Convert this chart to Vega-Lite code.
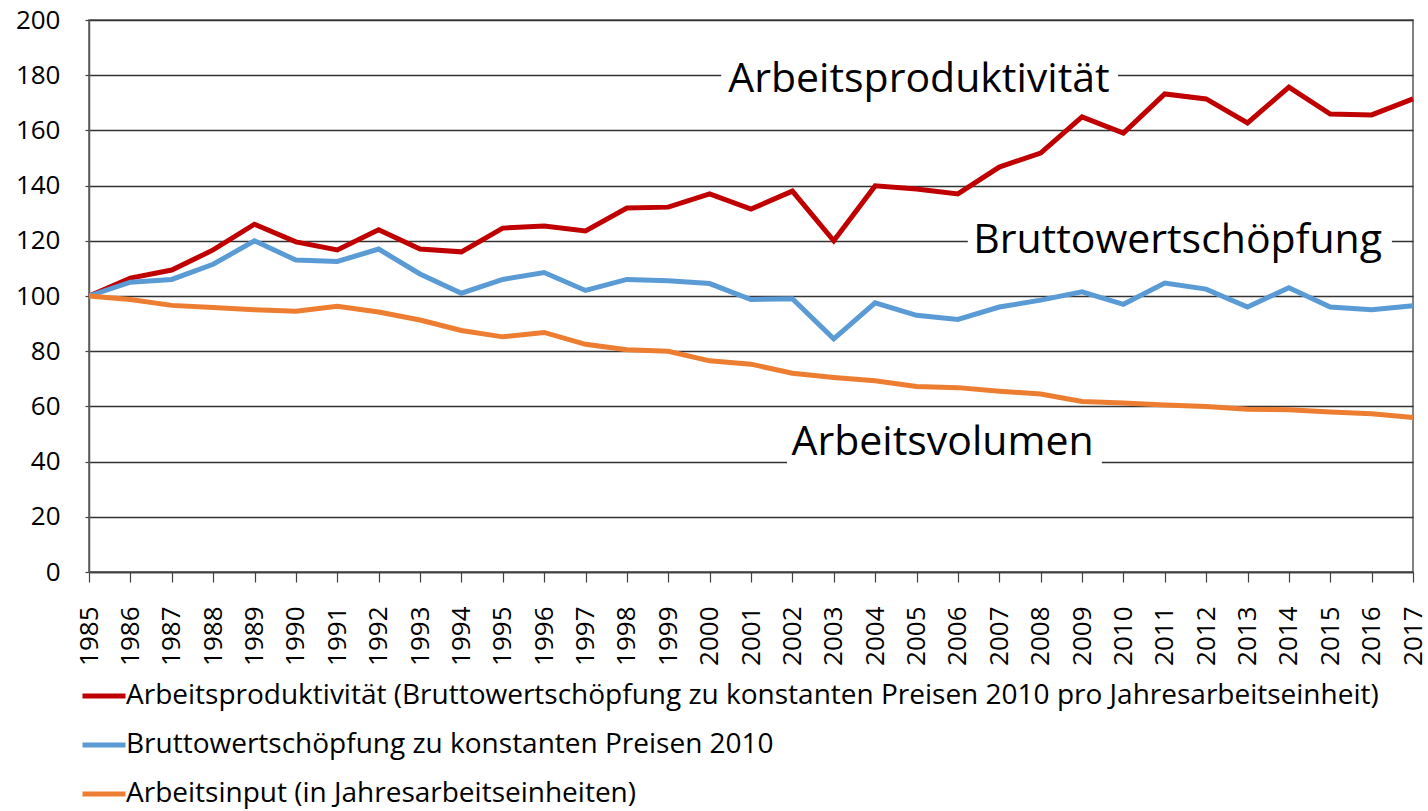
{
  "$schema": "https://vega.github.io/schema/vega-lite/v6.json",
  "width": 1324,
  "height": 552,
  "autosize": {"type": "none"},
  "padding": {"left": 89, "top": 20, "right": 15, "bottom": 239},
  "background": "white",
  "config": {
    "view": {"stroke": "#595959", "strokeWidth": 1.5},
    "font": "Open Sans",
    "axis": {"labelFont": "Open Sans", "labelFontSize": 26, "labelColor": "#000000", "domainColor": "#595959", "domainWidth": 1.5, "tickColor": "#404040", "tickWidth": 1.2, "gridColor": "#333333", "gridWidth": 1.4}
  },
  "datasets": {
    "series": [
      {"year": 1985, "series": "Arbeitsproduktivität (Bruttowertschöpfung zu konstanten Preisen 2010 pro Jahresarbeitseinheit)", "value": 100},
      {"year": 1986, "series": "Arbeitsproduktivität (Bruttowertschöpfung zu konstanten Preisen 2010 pro Jahresarbeitseinheit)", "value": 106.5},
      {"year": 1987, "series": "Arbeitsproduktivität (Bruttowertschöpfung zu konstanten Preisen 2010 pro Jahresarbeitseinheit)", "value": 109.4},
      {"year": 1988, "series": "Arbeitsproduktivität (Bruttowertschöpfung zu konstanten Preisen 2010 pro Jahresarbeitseinheit)", "value": 116.7},
      {"year": 1989, "series": "Arbeitsproduktivität (Bruttowertschöpfung zu konstanten Preisen 2010 pro Jahresarbeitseinheit)", "value": 126},
      {"year": 1990, "series": "Arbeitsproduktivität (Bruttowertschöpfung zu konstanten Preisen 2010 pro Jahresarbeitseinheit)", "value": 119.6},
      {"year": 1991, "series": "Arbeitsproduktivität (Bruttowertschöpfung zu konstanten Preisen 2010 pro Jahresarbeitseinheit)", "value": 116.7},
      {"year": 1992, "series": "Arbeitsproduktivität (Bruttowertschöpfung zu konstanten Preisen 2010 pro Jahresarbeitseinheit)", "value": 124},
      {"year": 1993, "series": "Arbeitsproduktivität (Bruttowertschöpfung zu konstanten Preisen 2010 pro Jahresarbeitseinheit)", "value": 117},
      {"year": 1994, "series": "Arbeitsproduktivität (Bruttowertschöpfung zu konstanten Preisen 2010 pro Jahresarbeitseinheit)", "value": 116},
      {"year": 1995, "series": "Arbeitsproduktivität (Bruttowertschöpfung zu konstanten Preisen 2010 pro Jahresarbeitseinheit)", "value": 124.6},
      {"year": 1996, "series": "Arbeitsproduktivität (Bruttowertschöpfung zu konstanten Preisen 2010 pro Jahresarbeitseinheit)", "value": 125.4},
      {"year": 1997, "series": "Arbeitsproduktivität (Bruttowertschöpfung zu konstanten Preisen 2010 pro Jahresarbeitseinheit)", "value": 123.6},
      {"year": 1998, "series": "Arbeitsproduktivität (Bruttowertschöpfung zu konstanten Preisen 2010 pro Jahresarbeitseinheit)", "value": 131.9},
      {"year": 1999, "series": "Arbeitsproduktivität (Bruttowertschöpfung zu konstanten Preisen 2010 pro Jahresarbeitseinheit)", "value": 132.2},
      {"year": 2000, "series": "Arbeitsproduktivität (Bruttowertschöpfung zu konstanten Preisen 2010 pro Jahresarbeitseinheit)", "value": 137},
      {"year": 2001, "series": "Arbeitsproduktivität (Bruttowertschöpfung zu konstanten Preisen 2010 pro Jahresarbeitseinheit)", "value": 131.5},
      {"year": 2002, "series": "Arbeitsproduktivität (Bruttowertschöpfung zu konstanten Preisen 2010 pro Jahresarbeitseinheit)", "value": 138},
      {"year": 2003, "series": "Arbeitsproduktivität (Bruttowertschöpfung zu konstanten Preisen 2010 pro Jahresarbeitseinheit)", "value": 120},
      {"year": 2004, "series": "Arbeitsproduktivität (Bruttowertschöpfung zu konstanten Preisen 2010 pro Jahresarbeitseinheit)", "value": 139.9},
      {"year": 2005, "series": "Arbeitsproduktivität (Bruttowertschöpfung zu konstanten Preisen 2010 pro Jahresarbeitseinheit)", "value": 138.8},
      {"year": 2006, "series": "Arbeitsproduktivität (Bruttowertschöpfung zu konstanten Preisen 2010 pro Jahresarbeitseinheit)", "value": 137},
      {"year": 2007, "series": "Arbeitsproduktivität (Bruttowertschöpfung zu konstanten Preisen 2010 pro Jahresarbeitseinheit)", "value": 146.7},
      {"year": 2008, "series": "Arbeitsproduktivität (Bruttowertschöpfung zu konstanten Preisen 2010 pro Jahresarbeitseinheit)", "value": 151.8},
      {"year": 2009, "series": "Arbeitsproduktivität (Bruttowertschöpfung zu konstanten Preisen 2010 pro Jahresarbeitseinheit)", "value": 164.9},
      {"year": 2010, "series": "Arbeitsproduktivität (Bruttowertschöpfung zu konstanten Preisen 2010 pro Jahresarbeitseinheit)", "value": 159},
      {"year": 2011, "series": "Arbeitsproduktivität (Bruttowertschöpfung zu konstanten Preisen 2010 pro Jahresarbeitseinheit)", "value": 173.2},
      {"year": 2012, "series": "Arbeitsproduktivität (Bruttowertschöpfung zu konstanten Preisen 2010 pro Jahresarbeitseinheit)", "value": 171.4},
      {"year": 2013, "series": "Arbeitsproduktivität (Bruttowertschöpfung zu konstanten Preisen 2010 pro Jahresarbeitseinheit)", "value": 162.7},
      {"year": 2014, "series": "Arbeitsproduktivität (Bruttowertschöpfung zu konstanten Preisen 2010 pro Jahresarbeitseinheit)", "value": 175.7},
      {"year": 2015, "series": "Arbeitsproduktivität (Bruttowertschöpfung zu konstanten Preisen 2010 pro Jahresarbeitseinheit)", "value": 165.9},
      {"year": 2016, "series": "Arbeitsproduktivität (Bruttowertschöpfung zu konstanten Preisen 2010 pro Jahresarbeitseinheit)", "value": 165.6},
      {"year": 2017, "series": "Arbeitsproduktivität (Bruttowertschöpfung zu konstanten Preisen 2010 pro Jahresarbeitseinheit)", "value": 171.4},
      {"year": 1985, "series": "Bruttowertschöpfung zu konstanten Preisen 2010", "value": 100},
      {"year": 1986, "series": "Bruttowertschöpfung zu konstanten Preisen 2010", "value": 105},
      {"year": 1987, "series": "Bruttowertschöpfung zu konstanten Preisen 2010", "value": 106},
      {"year": 1988, "series": "Bruttowertschöpfung zu konstanten Preisen 2010", "value": 111.5},
      {"year": 1989, "series": "Bruttowertschöpfung zu konstanten Preisen 2010", "value": 120},
      {"year": 1990, "series": "Bruttowertschöpfung zu konstanten Preisen 2010", "value": 113},
      {"year": 1991, "series": "Bruttowertschöpfung zu konstanten Preisen 2010", "value": 112.5},
      {"year": 1992, "series": "Bruttowertschöpfung zu konstanten Preisen 2010", "value": 117},
      {"year": 1993, "series": "Bruttowertschöpfung zu konstanten Preisen 2010", "value": 108},
      {"year": 1994, "series": "Bruttowertschöpfung zu konstanten Preisen 2010", "value": 101},
      {"year": 1995, "series": "Bruttowertschöpfung zu konstanten Preisen 2010", "value": 106},
      {"year": 1996, "series": "Bruttowertschöpfung zu konstanten Preisen 2010", "value": 108.5},
      {"year": 1997, "series": "Bruttowertschöpfung zu konstanten Preisen 2010", "value": 102},
      {"year": 1998, "series": "Bruttowertschöpfung zu konstanten Preisen 2010", "value": 106},
      {"year": 1999, "series": "Bruttowertschöpfung zu konstanten Preisen 2010", "value": 105.5},
      {"year": 2000, "series": "Bruttowertschöpfung zu konstanten Preisen 2010", "value": 104.5},
      {"year": 2001, "series": "Bruttowertschöpfung zu konstanten Preisen 2010", "value": 98.7},
      {"year": 2002, "series": "Bruttowertschöpfung zu konstanten Preisen 2010", "value": 99},
      {"year": 2003, "series": "Bruttowertschöpfung zu konstanten Preisen 2010", "value": 84.5},
      {"year": 2004, "series": "Bruttowertschöpfung zu konstanten Preisen 2010", "value": 97.5},
      {"year": 2005, "series": "Bruttowertschöpfung zu konstanten Preisen 2010", "value": 93},
      {"year": 2006, "series": "Bruttowertschöpfung zu konstanten Preisen 2010", "value": 91.5},
      {"year": 2007, "series": "Bruttowertschöpfung zu konstanten Preisen 2010", "value": 96},
      {"year": 2008, "series": "Bruttowertschöpfung zu konstanten Preisen 2010", "value": 98.5},
      {"year": 2009, "series": "Bruttowertschöpfung zu konstanten Preisen 2010", "value": 101.5},
      {"year": 2010, "series": "Bruttowertschöpfung zu konstanten Preisen 2010", "value": 97},
      {"year": 2011, "series": "Bruttowertschöpfung zu konstanten Preisen 2010", "value": 104.7},
      {"year": 2012, "series": "Bruttowertschöpfung zu konstanten Preisen 2010", "value": 102.5},
      {"year": 2013, "series": "Bruttowertschöpfung zu konstanten Preisen 2010", "value": 96},
      {"year": 2014, "series": "Bruttowertschöpfung zu konstanten Preisen 2010", "value": 103},
      {"year": 2015, "series": "Bruttowertschöpfung zu konstanten Preisen 2010", "value": 96},
      {"year": 2016, "series": "Bruttowertschöpfung zu konstanten Preisen 2010", "value": 95},
      {"year": 2017, "series": "Bruttowertschöpfung zu konstanten Preisen 2010", "value": 96.5},
      {"year": 1985, "series": "Arbeitsinput (in Jahresarbeitseinheiten)", "value": 100},
      {"year": 1986, "series": "Arbeitsinput (in Jahresarbeitseinheiten)", "value": 98.7},
      {"year": 1987, "series": "Arbeitsinput (in Jahresarbeitseinheiten)", "value": 96.6},
      {"year": 1988, "series": "Arbeitsinput (in Jahresarbeitseinheiten)", "value": 95.8},
      {"year": 1989, "series": "Arbeitsinput (in Jahresarbeitseinheiten)", "value": 95},
      {"year": 1990, "series": "Arbeitsinput (in Jahresarbeitseinheiten)", "value": 94.5},
      {"year": 1991, "series": "Arbeitsinput (in Jahresarbeitseinheiten)", "value": 96.3},
      {"year": 1992, "series": "Arbeitsinput (in Jahresarbeitseinheiten)", "value": 94.2},
      {"year": 1993, "series": "Arbeitsinput (in Jahresarbeitseinheiten)", "value": 91.3},
      {"year": 1994, "series": "Arbeitsinput (in Jahresarbeitseinheiten)", "value": 87.5},
      {"year": 1995, "series": "Arbeitsinput (in Jahresarbeitseinheiten)", "value": 85.2},
      {"year": 1996, "series": "Arbeitsinput (in Jahresarbeitseinheiten)", "value": 86.8},
      {"year": 1997, "series": "Arbeitsinput (in Jahresarbeitseinheiten)", "value": 82.5},
      {"year": 1998, "series": "Arbeitsinput (in Jahresarbeitseinheiten)", "value": 80.5},
      {"year": 1999, "series": "Arbeitsinput (in Jahresarbeitseinheiten)", "value": 80},
      {"year": 2000, "series": "Arbeitsinput (in Jahresarbeitseinheiten)", "value": 76.5},
      {"year": 2001, "series": "Arbeitsinput (in Jahresarbeitseinheiten)", "value": 75.3},
      {"year": 2002, "series": "Arbeitsinput (in Jahresarbeitseinheiten)", "value": 72},
      {"year": 2003, "series": "Arbeitsinput (in Jahresarbeitseinheiten)", "value": 70.5},
      {"year": 2004, "series": "Arbeitsinput (in Jahresarbeitseinheiten)", "value": 69.3},
      {"year": 2005, "series": "Arbeitsinput (in Jahresarbeitseinheiten)", "value": 67.2},
      {"year": 2006, "series": "Arbeitsinput (in Jahresarbeitseinheiten)", "value": 66.8},
      {"year": 2007, "series": "Arbeitsinput (in Jahresarbeitseinheiten)", "value": 65.5},
      {"year": 2008, "series": "Arbeitsinput (in Jahresarbeitseinheiten)", "value": 64.5},
      {"year": 2009, "series": "Arbeitsinput (in Jahresarbeitseinheiten)", "value": 61.8},
      {"year": 2010, "series": "Arbeitsinput (in Jahresarbeitseinheiten)", "value": 61.2},
      {"year": 2011, "series": "Arbeitsinput (in Jahresarbeitseinheiten)", "value": 60.5},
      {"year": 2012, "series": "Arbeitsinput (in Jahresarbeitseinheiten)", "value": 60},
      {"year": 2013, "series": "Arbeitsinput (in Jahresarbeitseinheiten)", "value": 59},
      {"year": 2014, "series": "Arbeitsinput (in Jahresarbeitseinheiten)", "value": 58.8},
      {"year": 2015, "series": "Arbeitsinput (in Jahresarbeitseinheiten)", "value": 58},
      {"year": 2016, "series": "Arbeitsinput (in Jahresarbeitseinheiten)", "value": 57.3},
      {"year": 2017, "series": "Arbeitsinput (in Jahresarbeitseinheiten)", "value": 56}
    ],
    "labels": [
      {"label": "Arbeitsproduktivität", "year": 2005.06, "value": 174, "x1": 2000.28, "x2": 2009.87, "y1": 172, "y2": 188},
      {"label": "Bruttowertschöpfung", "year": 2011.31, "value": 115.7, "x1": 2006.24, "x2": 2016.49, "y1": 115, "y2": 125},
      {"label": "Arbeitsvolumen", "year": 2005.63, "value": 42.4, "x1": 2001.87, "x2": 2009.48, "y1": 36, "y2": 44}
    ]
  },
  "layer": [
    {
      "data": {"name": "series"},
      "mark": {"type": "line", "strokeWidth": 5, "strokeJoin": "miter", "strokeCap": "butt"},
      "encoding": {
        "x": {
          "field": "year", "type": "quantitative",
          "scale": {"domain": [1985, 2017], "nice": false, "zero": false},
          "axis": {
            "title": null,
            "values": [1985,1986,1987,1988,1989,1990,1991,1992,1993,1994,1995,1996,1997,1998,1999,2000,2001,2002,2003,2004,2005,2006,2007,2008,2009,2010,2011,2012,2013,2014,2015,2016,2017],
            "format": "d", "labelAngle": -90, "labelAlign": "right", "labelBaseline": "middle",
            "grid": false, "tickSize": 10, "labelPadding": 24, "labelOverlap": false, "labelFlush": false,
            "domainColor": "#404040"
          }
        },
        "y": {
          "field": "value", "type": "quantitative",
          "scale": {"domain": [0, 200], "nice": false},
          "axis": {
            "title": null, "values": [0,20,40,60,80,100,120,140,160,180,200],
            "grid": true, "tickSize": 4, "labelPadding": 25, "labelFlush": false
          }
        },
        "color": {
          "field": "series", "type": "nominal",
          "scale": {
            "domain": ["Arbeitsproduktivität (Bruttowertschöpfung zu konstanten Preisen 2010 pro Jahresarbeitseinheit)", "Bruttowertschöpfung zu konstanten Preisen 2010", "Arbeitsinput (in Jahresarbeitseinheiten)"],
            "range": ["#C00000", "#5B9BD5", "#ED7D31"]
          },
          "legend": {
            "title": null, "orient": "none", "legendX": -9, "legendY": 652, "direction": "vertical",
            "symbolType": "stroke", "symbolSize": 1849, "symbolStrokeWidth": 5,
            "labelFontSize": 28, "labelFont": "Open Sans", "labelColor": "#000000", "labelLimit": 2000,
            "labelOffset": -2, "rowPadding": 11, "padding": 0
          }
        },
        "order": {"field": "year", "type": "quantitative"}
      }
    },
    {
      "data": {"name": "labels"},
      "mark": {"type": "rect", "fill": "white"},
      "encoding": {
        "x": {"field": "x1", "type": "quantitative"},
        "x2": {"field": "x2"},
        "y": {"field": "y1", "type": "quantitative"},
        "y2": {"field": "y2"}
      }
    },
    {
      "data": {"name": "labels"},
      "mark": {"type": "text", "font": "Open Sans", "fontSize": 41, "color": "#000000", "align": "center", "baseline": "alphabetic"},
      "encoding": {
        "x": {"field": "year", "type": "quantitative"},
        "y": {"field": "value", "type": "quantitative"},
        "text": {"field": "label"}
      }
    }
  ]
}
